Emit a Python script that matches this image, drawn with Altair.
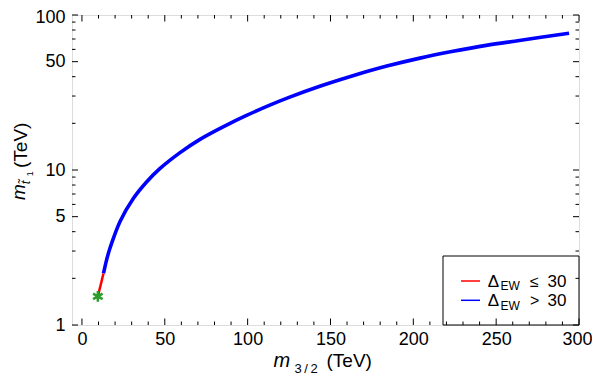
import altair as alt
import pandas as pd

# ---- data ----
red_x = [9.6, 13.0]
red_y = [1.53, 2.15]
blue_x = [13, 15, 17, 23, 31, 39, 47, 59, 71, 87, 99, 113, 125, 144, 164, 184, 204, 224, 244, 264, 294]
blue_y = [2.15, 2.66, 3.15, 4.66, 6.55, 8.37, 10.2, 12.9, 15.7, 19.4, 22.4, 26.1, 29.4, 34.8, 40.7,
          46.8, 52.7, 58.3, 63.7, 68.5, 76.3]
star_x = [9.6]
star_y = [1.53]

x_major = [0, 50, 100, 150, 200, 250, 300]
x_minor = [v for v in range(0, 301, 10) if v % 50 != 0]
y_major = [1, 5, 10, 50, 100]
y_minor = [2, 3, 4, 6, 7, 8, 9, 20, 30, 40, 60, 70, 80, 90]

PAD_L, PAD_T, PAD_R, PAD_B = 64, 7, 13, 55
L0, T0 = 8 + PAD_L, 8 + PAD_T      # page position of the plot's top-left corner
W, H = 507, 310
FONT = "Liberation Sans"


def px(page_x):
    return page_x - L0


def py(page_y):
    return page_y - T0


xs = alt.Scale(domain=[-6, 300], nice=False, zero=False)
ys = alt.Scale(type="log", domain=[1, 100], nice=False)

axX = alt.Axis(values=x_major, ticks=False, domain=False, grid=False, labelFlush=False,
               labelFontSize=18, labelFont=FONT, labelColor="black",
               labelOffset={"condition": {"test": "datum.value == 300", "value": -2}, "value": 0},
               labelPadding=5, title=None, format="d")
axY = alt.Axis(values=y_major, ticks=False, domain=False, grid=False, labelFlush=False,
               labelFontSize=18, labelFont=FONT, labelColor="black",
               labelOffset={"condition": {"test": "datum.value == 100", "value": 2.5}, "value": 0},
               labelPadding=7, title=None, format="d")


def X(f):
    return alt.X(f, scale=xs, axis=axX)


def Y(f):
    return alt.Y(f, scale=ys, axis=axY)


red_df = pd.DataFrame({"x": red_x, "y": red_y})
blue_df = pd.DataFrame({"x": blue_x, "y": blue_y})
star_df = pd.DataFrame({"x": star_x, "y": star_y})

blue = alt.Chart(blue_df).mark_line(color="#0000ff", strokeWidth=3.6, interpolate="catmull-rom").encode(
    x=X("x:Q"), y=Y("y:Q"))
red = alt.Chart(red_df).mark_line(color="#ff0000", strokeWidth=2.5).encode(
    x=X("x:Q"), y=Y("y:Q"))
star = alt.Chart(star_df).mark_point(
    shape="M0,-1L0,1M-0.87,-0.5L0.87,0.5M-0.87,0.5L0.87,-0.5",
    color="#2a9d2a", strokeWidth=2.5, size=120, filled=False, opacity=1).encode(
    x=X("x:Q"), y=Y("y:Q"))

# ---- legend (manual, to allow subscripts) ----
leg_df = pd.DataFrame({"a": [0]})
leg_box = alt.Chart(leg_df).mark_rect(fill="white", stroke="black", strokeWidth=1).encode(
    x=alt.value(px(443)), x2=alt.value(W), y=alt.value(py(256)), y2=alt.value(H))
leg_layers = [leg_box]
rows = [("#ff0000", "≤", 281.0), ("#0000ff", ">", 300.3)]
for col, sym, yy in rows:
    leg_layers.append(alt.Chart(leg_df).mark_rule(color=col, strokeWidth=1.5).encode(
        x=alt.value(px(461.0)), x2=alt.value(px(480.0)), y=alt.value(py(yy))))
    b = py(yy + 5.7)
    leg_layers.append(alt.Chart(leg_df).mark_text(text="Δ", font=FONT, fontSize=17, align="left",
                                                  baseline="alphabetic", color="black").encode(
        x=alt.value(px(487.8)), y=alt.value(b)))
    leg_layers.append(alt.Chart(leg_df).mark_text(text="EW", font=FONT, fontSize=12, align="left",
                                                  baseline="alphabetic", color="black").encode(
        x=alt.value(px(500.4)), y=alt.value(b + 3.5)))
    leg_layers.append(alt.Chart(leg_df).mark_text(text=sym, font=FONT, fontSize=16, align="left",
                                                  baseline="alphabetic", color="black").encode(
        x=alt.value(px(530.0)), y=alt.value(b)))
    leg_layers.append(alt.Chart(leg_df).mark_text(text="30", font=FONT, fontSize=17, align="left",
                                                  baseline="alphabetic", color="black").encode(
        x=alt.value(px(547.5)), y=alt.value(b)))


# ---- ticks (inside, on all four sides) ----
def xticks(vals, ln):
    d = pd.DataFrame({"x": vals})
    bot = alt.Chart(d).mark_rule(color="black", strokeWidth=1).encode(
        x=X("x:Q"), y=alt.value(H), y2=alt.value(H - ln))
    top = alt.Chart(d).mark_rule(color="black", strokeWidth=1).encode(
        x=X("x:Q"), y=alt.value(0), y2=alt.value(ln))
    return [bot, top]


def yticks(vals, ln):
    d = pd.DataFrame({"y": vals})
    lft = alt.Chart(d).mark_rule(color="black", strokeWidth=1).encode(
        y=Y("y:Q"), x=alt.value(0), x2=alt.value(ln))
    rgt = alt.Chart(d).mark_rule(color="black", strokeWidth=1).encode(
        y=Y("y:Q"), x=alt.value(W), x2=alt.value(W - ln))
    return [lft, rgt]


tick_layers = xticks(x_major, 6.5) + xticks(x_minor, 3.5) + yticks(y_major, 6) + yticks(y_minor, 3.5)


# ---- axis titles (manual, with subscripts) ----
def txt(s, x, y, size, style="normal", angle=0):
    kw = dict(text=s, font=FONT, fontSize=size, align="left", baseline="alphabetic",
              color="black", fontStyle=style)
    if angle:
        kw["angle"] = angle
    return alt.Chart(leg_df).mark_text(**kw).encode(x=alt.value(px(x)), y=alt.value(py(y)))


titles = [
    txt("m", 273.5, 366.7, 20, "italic"),
    txt("3\u2009/\u20092", 294.5, 372.5, 13),
    txt("(TeV)", 326.5, 366.7, 19),
    txt("m", 25.0, 200.0, 19, "italic", 270),
    txt("t\u0303", 29.8, 184.2, 13, "italic", 270),
    txt("1", 32.8, 176.2, 9, "normal", 270),
    txt("(TeV)", 26.7, 168.0, 19, "normal", 270),
]

chart = alt.layer(blue, red, star, *leg_layers, *tick_layers, *titles).properties(
    width=W, height=H,
    autosize=alt.AutoSizeParams(type="none"),
    padding={"left": PAD_L, "top": PAD_T, "right": PAD_R, "bottom": PAD_B},
).configure_view(stroke="black", strokeWidth=1).configure(background="white")

chart.save("out.html", embed_options={"renderer": "svg", "actions": False})
